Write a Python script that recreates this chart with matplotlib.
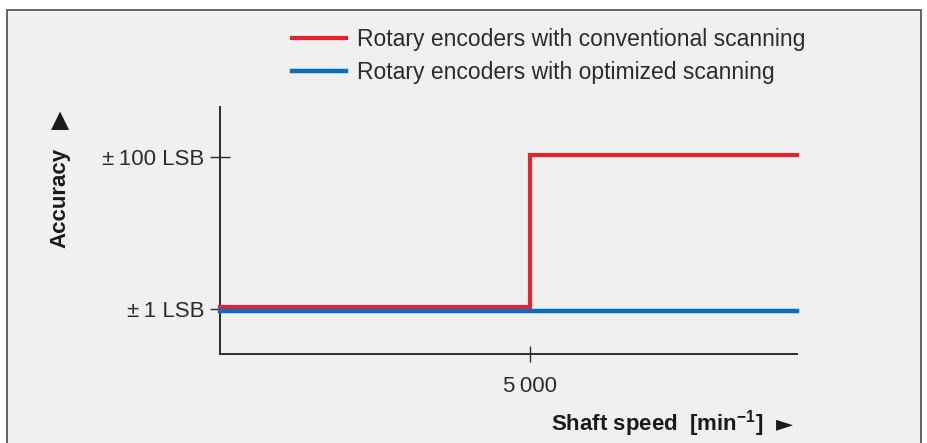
"""
Accuracy vs. shaft speed for rotary encoders (conventional vs optimized scanning).
"""

import matplotlib
matplotlib.use('Agg')
import matplotlib.pyplot as plt
from matplotlib import transforms
from matplotlib.patches import Rectangle

# ── Data ──────────────────────────────────────────────────────────────────────
speed_conv = [0, 5000, 5000, 9300]
acc_conv = [1, 1, 100, 100]
speed_opt = [0, 9300]
acc_opt = [1, 1]
y_ticks = [1, 100]
y_labels = ['±\u20091 LSB', '±\u2009100 LSB']
x_ticks = [5000]
x_labels = ['5\u2009000']
series_labels = ['Rotary encoders with conventional scanning',
                 'Rotary encoders with optimized scanning']

# ── Style ─────────────────────────────────────────────────────────────────────
RED = '#e52330'
BLUE = '#0a6ebd'
AXIS = '#2b2b2b'
BG = '#f0f0f0'
plt.rcParams['font.family'] = ['Liberation Sans', 'DejaVu Sans']
plt.rcParams['mathtext.fontset'] = 'custom'
plt.rcParams['mathtext.bf'] = 'Liberation Sans:bold'
plt.rcParams['mathtext.rm'] = 'Liberation Sans:bold'

W, H = 928, 443
fig = plt.figure(figsize=(W / 100, H / 100), dpi=100, facecolor='white')

# panel background with frame
fig.patches.append(Rectangle((7 / W, -0.05), 914 / W, 1 - 10 / H + 0.05,
                             transform=fig.transFigure, facecolor=BG,
                             edgecolor='#4a4a4a', linewidth=1.2, zorder=-10))

ax = fig.add_axes([220 / W, 89 / H, 577 / W, 247 / H])
ax.set_facecolor('none')
ax.set_zorder(2)
ax.set_yscale('log')
ax.set_xlim(0, 9300)
ax.set_ylim(0.256, 455)

# the two series sit just above / below the shared 1 LSB level
up = transforms.offset_copy(ax.transData, fig=fig, x=0, y=1.8, units='dots')
down = transforms.offset_copy(ax.transData, fig=fig, x=0, y=-2.2, units='dots')
ax.plot(speed_conv, acc_conv, color=RED, linewidth=3.0, transform=up,
        solid_joinstyle='miter', label=series_labels[0], zorder=3, clip_on=False)
ax.plot(speed_opt, acc_opt, color=BLUE, linewidth=3.2, transform=down,
        label=series_labels[1], zorder=4, clip_on=False)

for s in ['top', 'right']:
    ax.spines[s].set_visible(False)
for s in ['left', 'bottom']:
    ax.spines[s].set_color(AXIS)
    ax.spines[s].set_linewidth(1.4)

ax.set_yticks(y_ticks)
ax.set_yticklabels(y_labels)
ax.yaxis.set_minor_locator(matplotlib.ticker.NullLocator())
ax.set_xticks(x_ticks)
ax.set_xticklabels(x_labels)
ax.tick_params(axis='y', direction='inout', length=14, width=1.0, color=AXIS,
               labelsize=16, labelcolor='#2b2b2b', pad=4)
ax.tick_params(axis='x', direction='inout', length=12, width=1.0, color=AXIS,
               labelsize=16, labelcolor='#2b2b2b', pad=10)

# axis titles with arrows
fig.text(60 / W, 1 - 198 / H, 'Accuracy', rotation=90, ha='center', va='center',
         fontsize=16, fontweight='bold', color='#1a1a1a')
fig.text(60 / W, 1 - 120 / H, '▲', ha='center', va='center', fontsize=17,
         family='DejaVu Sans', color='#1a1a1a')
fig.text(763 / W, 1 - 424 / H, r'Shaft speed  [min$^{\mathbf{-1}}$]', ha='right',
         va='center', fontsize=16, fontweight='bold', color='#1a1a1a')
fig.text(785 / W, 1 - 424 / H, '►', ha='center', va='center', fontsize=16,
         family='DejaVu Sans', color='#1a1a1a')

fig.legend(loc='upper left', bbox_to_anchor=(292 / W, 1 - 28 / H), frameon=False,
           fontsize=16.5, handlelength=2.35, handletextpad=0.5, labelspacing=0.45,
           borderpad=0, borderaxespad=0, labelcolor='#2b2b2b')

fig.savefig('out.png', dpi=100, facecolor=fig.get_facecolor())
